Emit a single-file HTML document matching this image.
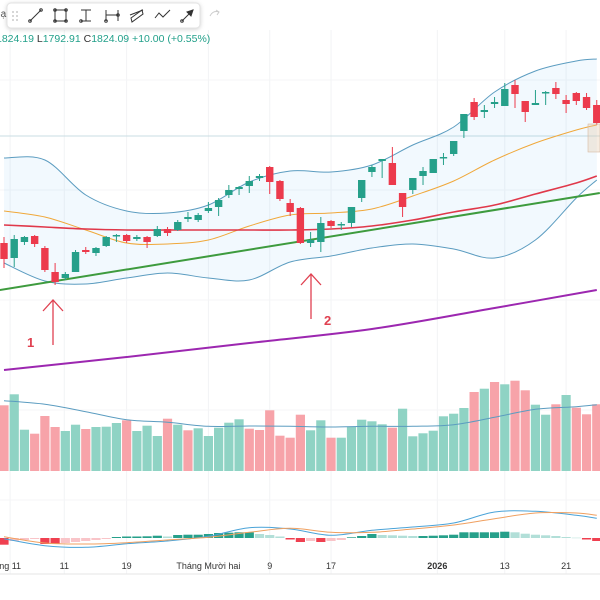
<!DOCTYPE html>
<html><head><meta charset="utf-8">
<style>
html,body{margin:0;padding:0;background:#fff;}
svg{display:block;font-family:"Liberation Sans",sans-serif;}
</style></head>
<body>
<svg id="chart" width="600" height="600" viewBox="0 0 600 600" xmlns="http://www.w3.org/2000/svg">
  <g id="grid"></g>
  <line x1="0" y1="136" x2="600" y2="136" stroke="#c9dde3" stroke-width="1"/>
  <path id="bbFill" fill="rgba(33,150,243,0.06)"/>
  <path id="bbUpper" fill="none" stroke="#5b9cc0" stroke-width="1"/>
  <path id="bbLower" fill="none" stroke="#5b9cc0" stroke-width="1"/>
  <path id="maOrange" fill="none" stroke="#f0a83a" stroke-width="1"/>
  <path id="maRed" fill="none" stroke="#e0384a" stroke-width="1.6"/>
  <path id="trend" fill="none" stroke="#3e9b3e" stroke-width="2"/>
  <path id="maPurple" fill="none" stroke="#9c27b0" stroke-width="2"/>
  <g id="candles"></g>
  <rect x="588" y="124" width="12" height="28" fill="rgba(230,200,170,0.35)" stroke="#d8b8a0" stroke-width="0.6"/>
  <g id="volume"></g>
  <path id="volMa" fill="none" stroke="#5b9cc0" stroke-width="1"/>
  <g id="macdHist"></g>
  <path id="macdLine" fill="none" stroke="#4aa3d8" stroke-width="1"/>
  <path id="signalLine" fill="none" stroke="#f0a060" stroke-width="1"/>
  <line x1="0" y1="574" x2="600" y2="574" stroke="#e6e6e6"/>
  <g id="xlabels" font-size="9" fill="#333"></g>

  <g stroke="#e04050" stroke-width="1.3" fill="none">
    <line x1="53" y1="345" x2="53" y2="300"/><polyline points="43,311 53,300 63,311"/>
  </g>
  <text x="27" y="347" font-size="13" font-weight="bold" fill="#e04050">1</text>
  <g stroke="#e04050" stroke-width="1.3" fill="none">
    <line x1="311" y1="319" x2="311" y2="274"/><polyline points="301,285 311,274 321,285"/>
  </g>
  <text x="324" y="325" font-size="13" font-weight="bold" fill="#e04050">2</text>

  <text x="-4" y="42" font-size="10.5" fill="#22a08a">1824.19 <tspan fill="#333">L</tspan>1792.91 <tspan fill="#333">C</tspan>1824.09 +10.00 (+0.55%)</text>
  <text x="-6" y="17" font-size="10" fill="#555">Bạc</text>

  <g>
    <rect x="7" y="3" width="193" height="25" rx="4" fill="#fff" stroke="#e3e3e3" style="filter:drop-shadow(0 1px 2px rgba(0,0,0,0.18))"/>
    <g fill="#bbb"><circle cx="13" cy="12" r="0.9"/><circle cx="17" cy="12" r="0.9"/><circle cx="13" cy="16" r="0.9"/><circle cx="17" cy="16" r="0.9"/><circle cx="13" cy="20" r="0.9"/><circle cx="17" cy="20" r="0.9"/></g>
    <g stroke="#333" stroke-width="1" fill="none">
      <g><line x1="30" y1="21" x2="41" y2="10"/><circle cx="30" cy="21" r="1.3"/><circle cx="41" cy="10" r="1.3"/></g>
      <g><rect x="55" y="10" width="11" height="11"/><circle cx="55" cy="10" r="1.3"/><circle cx="66" cy="10" r="1.3"/><circle cx="55" cy="21" r="1.3"/><circle cx="66" cy="21" r="1.3"/></g>
      <g><line x1="81" y1="10" x2="91" y2="10"/><line x1="86" y1="10" x2="86" y2="21"/><line x1="81" y1="21" x2="91" y2="21"/><circle cx="81" cy="21" r="1.3"/></g>
      <g><line x1="106" y1="10" x2="106" y2="21"/><line x1="118" y1="10" x2="118" y2="21"/><line x1="106" y1="15" x2="118" y2="15"/><circle cx="106" cy="21" r="1.3"/><circle cx="118" cy="15" r="1.3"/></g>
      <g><polygon points="131,18 142,10 143,14 132,22"/><line x1="130" y1="15" x2="143" y2="10"/></g>
      <g><polyline points="155,18 159,13 163,17 167,13 170,10"/></g>
      <g><line x1="182" y1="21" x2="193" y2="10"/><circle cx="182" cy="21" r="1.3"/><polygon points="193,10 187,12 191,16" fill="#333"/></g>
    </g>
    <path d="M210 16 Q213 10 219 12 M216 10 L219 12 L217 15" stroke="#ccc" fill="none"/>
  </g>
</svg>
<script>
// ---- data ----
const opens  = [1757,1742,1758,1764,1752,1728,1722,1728,1750,1747,1754,1764,1765,1761,1763,1764,1771,1770,1781,1780,1789,1793,1805,1811,1814,1822,1833,1819,1797,1792,1757,1758,1779,1775,1777,1802,1828,1839,1837,1807,1810,1824,1827,1842,1846,1869,1898,1888,1896,1894,1915,1899,1895,1907,1912,1900,1907,1903,1895];
const closes = [1741,1761,1763,1756,1730,1718,1726,1748,1748,1752,1763,1765,1759,1763,1758,1771,1767,1778,1783,1785,1792,1800,1810,1813,1819,1824,1818,1801,1788,1757,1760,1777,1774,1776,1793,1820,1833,1841,1815,1793,1822,1829,1841,1843,1859,1886,1883,1890,1898,1911,1906,1888,1897,1908,1906,1896,1899,1892,1877];
const highs  = [1763,1765,1764,1765,1754,1737,1728,1750,1753,1753,1764,1766,1766,1765,1764,1774,1773,1780,1788,1787,1798,1802,1815,1814,1824,1826,1834,1820,1801,1793,1768,1783,1780,1778,1793,1820,1835,1841,1853,1807,1822,1833,1841,1847,1859,1886,1902,1895,1903,1917,1920,1899,1910,1909,1918,1905,1908,1907,1900];
const lows   = [1732,1733,1755,1753,1728,1715,1720,1728,1746,1744,1753,1758,1757,1759,1752,1763,1764,1769,1778,1778,1787,1784,1802,1805,1807,1819,1806,1799,1784,1756,1753,1748,1772,1770,1773,1798,1823,1822,1815,1783,1806,1815,1827,1835,1844,1862,1880,1882,1892,1894,1892,1878,1895,1895,1901,1887,1895,1890,1875];
const volumes = [657,767,413,373,550,440,400,463,420,440,443,480,507,400,453,350,523,463,407,427,350,433,483,517,423,410,607,353,333,563,407,507,333,333,440,513,497,467,433,623,347,377,403,547,573,630,790,823,890,867,903,807,663,563,667,760,633,567,667];
const volUp = [0,1,1,0,0,0,1,1,0,1,1,1,0,1,1,1,0,1,0,1,1,1,1,1,0,0,0,0,0,0,1,1,0,1,1,1,1,1,0,1,1,1,1,1,1,1,0,1,0,1,0,0,1,1,0,1,0,0,0];
const hist = [-6.7,-3,-2,-1,-6,-6,-5,-4,-3,-2,-1,1,1.5,1.5,1.7,2.3,1.5,3,3.3,3.3,4,5,5.3,5.7,5.7,4,3,1.5,-1.5,-4,-3,-4,-3,-2,0.7,2,4,3,2.7,2.3,2,2,2.3,2.7,3.3,5.7,5.7,5.7,5.7,6.3,5.7,4.3,3.3,2.7,2,1,0.3,-1.5,-3];
const lineIdx   = [0,4,8,12,16,20,24,28,32,36,40,44,48,52,56,58];
const maRedVals = [1775,1773,1771,1770,1770,1770,1770,1770,1771,1774,1780,1788,1795,1806,1817,1824];
const maOrangeVals = [1789,1783,1770,1757,1756,1760,1774,1785,1787,1791,1804,1819,1840,1857,1870,1875];
const bbUpperVals = [1842,1840,1805,1789,1787,1795,1818,1829,1828,1835,1855,1873,1908,1929,1939,1941];
const bbLowerVals = [1737,1719,1716,1722,1727,1722,1720,1738,1744,1752,1756,1751,1742,1760,1802,1820];
const volMaVals = [703,667,593,513,487,447,450,447,440,447,447,463,537,617,643,663];
const macdVals  = [-0.7,-7.7,-9.3,-5.7,-3,1.7,10.3,9,2.7,7.7,11,15,26,26.7,22.7,19.7];
const signalVals = [1.3,-5,-6,-4.7,-2,0.7,5.7,9.7,5.7,5.7,9,13,19.3,25,25,22.7];
const purpleIdx  = [0,12,24,36,48,58];
const purpleVals = [1630,1643,1657,1671,1692,1710];
const trendIdx = [-0.4,58.3];
const trendVals = [1710,1807];
const tickLabels = ["ng 11","11","19","Tháng Mười hai","9","17","2026","13","21"];
const tickIdx = [0.6,5.9,12,20,26,32,42.4,49,55];

// ---- scales ----
const X0=4, STEP=10.22;
const x = i => X0 + STEP*i;
const yPrice = p => 2000 - p;
const VOL_BASE=471, yVol = v => VOL_BASE - v/10;
const MACD_ZERO=538, yMacd = v => MACD_ZERO - v;
const NS="http://www.w3.org/2000/svg";
function mk(tag, attrs, parent){const e=document.createElementNS(NS,tag);for(const k in attrs)e.setAttribute(k,attrs[k]);parent.appendChild(e);return e;}
// Catmull-Rom smoothing through the data points
function pathFrom(idx, vals, yf, noMove){
  const p = idx.map((i,k)=>[x(i), yf(vals[k])]);
  let d = (noMove?"L":"M")+p[0][0].toFixed(1)+" "+p[0][1].toFixed(1);
  for(let k=0;k<p.length-1;k++){
    const p0=p[k-1]||p[k], p1=p[k], p2=p[k+1], p3=p[k+2]||p2;
    const c1=[p1[0]+(p2[0]-p0[0])/6, p1[1]+(p2[1]-p0[1])/6];
    const c2=[p2[0]-(p3[0]-p1[0])/6, p2[1]-(p3[1]-p1[1])/6];
    d += " C"+c1[0].toFixed(1)+" "+c1[1].toFixed(1)+" "+c2[0].toFixed(1)+" "+c2[1].toFixed(1)+" "+p2[0].toFixed(1)+" "+p2[1].toFixed(1);
  }
  return d;
}

// grid
const grid=document.getElementById('grid');
tickIdx.forEach(i=>{
  const l=mk('line',{x1:x(i),x2:x(i),y1:30,y2:574,stroke:'#f2f3f5'},grid);
  
  
});
[80,190,300,410,500].forEach(y=>{
  const l=mk('line',{x1:0,x2:600,y1:y,y2:y,stroke:'#f4f5f7'},grid);
  
  
});

// overlays
document.getElementById('bbUpper').setAttribute('d',pathFrom(lineIdx,bbUpperVals,yPrice));
document.getElementById('bbLower').setAttribute('d',pathFrom(lineIdx,bbLowerVals,yPrice));
{
  const up=pathFrom(lineIdx,bbUpperVals,yPrice);
  const lo=pathFrom(lineIdx.slice().reverse(),bbLowerVals.slice().reverse(),yPrice,true);
  document.getElementById('bbFill').setAttribute('d',up+" "+lo+" Z");
}
document.getElementById('maOrange').setAttribute('d',pathFrom(lineIdx,maOrangeVals,yPrice));
document.getElementById('maRed').setAttribute('d',pathFrom(lineIdx,maRedVals,yPrice));
document.getElementById('maPurple').setAttribute('d',pathFrom(purpleIdx,purpleVals,yPrice));
document.getElementById('trend').setAttribute('d',"M"+x(trendIdx[0])+" "+yPrice(trendVals[0])+" L"+x(trendIdx[1])+" "+yPrice(trendVals[1]));

// candles
const cg=document.getElementById('candles');
opens.forEach((o,i)=>{
  const c=closes[i], up=c>=o, col=up?'#26a08a':'#ec3a4c';
  const g=mk('g',{},cg);
  
  
  mk('line',{x1:x(i),x2:x(i),y1:yPrice(highs[i]),y2:yPrice(lows[i]),stroke:col,'stroke-width':1},g);
  const top=yPrice(Math.max(o,c)), h=Math.max(1.5,Math.abs(o-c));
  mk('rect',{x:x(i)-3.7,y:top,width:7.4,height:h,fill:col},g);
});

// volume
const vg=document.getElementById('volume');
volumes.forEach((v,i)=>{
  const r=mk('rect',{x:x(i)-4.6,y:yVol(v),width:9.2,height:VOL_BASE-yVol(v),fill:volUp[i]?'#8fd3c4':'#f7a3a9'},vg);
  
  
});
document.getElementById('volMa').setAttribute('d',pathFrom(lineIdx,volMaVals,yVol));

// macd
const mg=document.getElementById('macdHist');
hist.forEach((v,i)=>{
  const prev=i>0?hist[i-1]:v;
  let col;
  if(v>=0) col = v>=prev ? '#26a08a' : '#b2dfd8';
  else col = v<=prev ? '#ef4050' : '#f9c4c8';
  const y0=yMacd(Math.max(v,0)), h=Math.abs(v);
  const r=mk('rect',{x:x(i)-4.6,y:y0,width:9.2,height:Math.max(h,0.5),fill:col},mg);
  
  
});
document.getElementById('macdLine').setAttribute('d',pathFrom(lineIdx,macdVals,yMacd));
document.getElementById('signalLine').setAttribute('d',pathFrom(lineIdx,signalVals,yMacd));

// x labels
const xl=document.getElementById('xlabels');
tickLabels.forEach((t,k)=>{
  const e=mk('text',{x:x(tickIdx[k]),y:569,'text-anchor':'middle'},xl);
  if(t==='2026') e.setAttribute('font-weight','bold');
  e.textContent=t;
  
  
});
</script>
</body></html>
